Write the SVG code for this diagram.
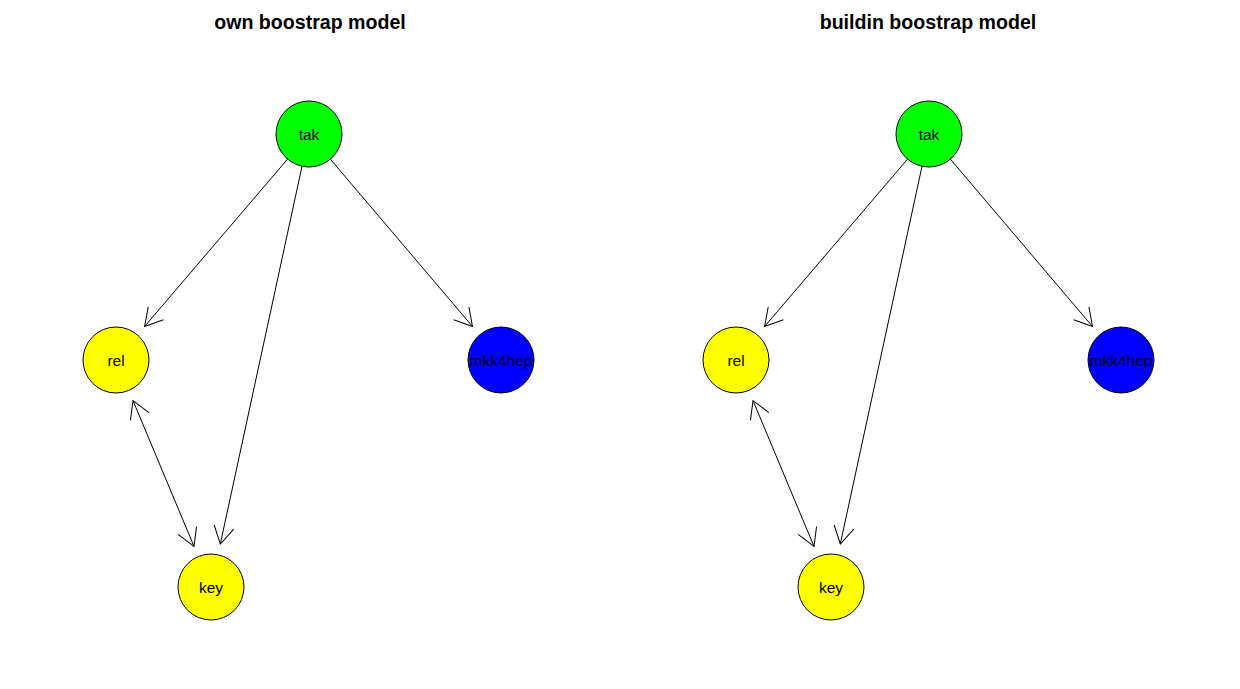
<svg xmlns="http://www.w3.org/2000/svg" width="1240" height="689" viewBox="0 0 1240 689">
<style>
.title{font-family:"Liberation Sans",Arial,sans-serif;font-weight:bold;font-size:19.6px;text-anchor:middle;fill:#000}
.lbl{font-family:"Liberation Sans",Arial,sans-serif;font-size:15.5px;text-anchor:middle;fill:#000}
.node{stroke:#000;stroke-width:1}
.edge{stroke:#000;stroke-width:1;fill:none;marker-end:url(#ah)}
.both{marker-start:url(#ah)}
</style>
<defs>
<marker id="ah" markerUnits="userSpaceOnUse" orient="auto-start-reverse" refX="0" refY="0" markerWidth="40" markerHeight="40" viewBox="-20 -20 40 40" overflow="visible">
<path d="M-17.3,-10 L0,0 L-17.3,10" fill="none" stroke="#000" stroke-width="1"/>
</marker>
</defs>
<rect width="1240" height="689" fill="#fff"/>
<text class="title" x="310" y="29">own boostrap model</text>
<text class="title" x="928" y="29">buildin boostrap model</text>
<g id="connectors">
<line class="edge" x1="309" y1="134" x2="144.6" y2="326.5"/>
<line class="edge" x1="309" y1="134" x2="220.3" y2="544"/>
<line class="edge" x1="309" y1="134" x2="472.5" y2="326.5"/>
<line class="edge both" x1="133" y1="400.6" x2="194" y2="546.4"/>
<line class="edge" x1="929" y1="134" x2="764.6" y2="326.5"/>
<line class="edge" x1="929" y1="134" x2="840.3" y2="544"/>
<line class="edge" x1="929" y1="134" x2="1092.5" y2="326.5"/>
<line class="edge both" x1="753" y1="400.6" x2="814" y2="546.4"/>
</g>
<g id="own-tak"><circle class="node" cx="309" cy="134" r="33" fill="#00ff00"/><text class="lbl" x="309" y="139.5">tak</text></g>
<g id="own-rel"><circle class="node" cx="116" cy="360" r="33" fill="#ffff00"/><text class="lbl" x="116" y="365.5">rel</text></g>
<g id="own-key"><circle class="node" cx="211" cy="587" r="33" fill="#ffff00"/><text class="lbl" x="211" y="592.5">key</text></g>
<g id="own-mkk4hep"><circle class="node" cx="501" cy="360" r="33" fill="#0000ff"/><text class="lbl" x="501" y="365.5">mkk4hep</text></g>
<g id="buildin-tak"><circle class="node" cx="929" cy="134" r="33" fill="#00ff00"/><text class="lbl" x="929" y="139.5">tak</text></g>
<g id="buildin-rel"><circle class="node" cx="736" cy="360" r="33" fill="#ffff00"/><text class="lbl" x="736" y="365.5">rel</text></g>
<g id="buildin-key"><circle class="node" cx="831" cy="587" r="33" fill="#ffff00"/><text class="lbl" x="831" y="592.5">key</text></g>
<g id="buildin-mkk4hep"><circle class="node" cx="1121" cy="360" r="33" fill="#0000ff"/><text class="lbl" x="1121" y="365.5">mkk4hep</text></g>
</svg>
